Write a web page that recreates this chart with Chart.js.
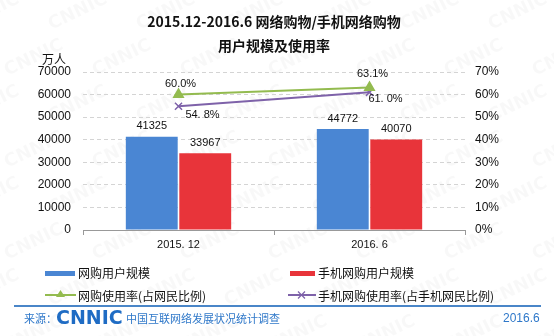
<!DOCTYPE html>
<html>
<head>
<meta charset="utf-8">
<script src="https://cdn.jsdelivr.net/npm/chart.js@4/dist/chart.umd.min.js"></script>
<style>
  body { margin: 0; background: #fff; }
  #chart { display: block; }
</style>
</head>
<body>
<canvas id="chart" width="554" height="336"></canvas>
<script>
const periods = ['2015. 12', '2016. 6'];
const shopUsers = [41325, 44772];
const mobileShopUsers = [33967, 40070];
const shopRate = [60.0, 63.1];
const mobileShopRate = [54.8, 61.0];

const leftTicksMax = 70000;
const rightTicksMax = 70;

const BLUE = '#4a86d3';
const RED = '#e8343a';
const GREEN = '#93bb4f';
const PURPLE = '#7e62a9';
const FONT = '"Liberation Sans", Arial, sans-serif';
const CJK = '"Noto Sans CJK SC", sans-serif';

// faint repeated logo text behind everything
const watermark = {
  id: 'watermark',
  beforeDraw(chart) {
    const ctx = chart.ctx;
    ctx.save();
    ctx.fillStyle = '#fff';
    ctx.fillRect(0, 0, chart.width, chart.height);
    ctx.fillStyle = 'rgba(0,0,0,0.028)';
    ctx.font = 'bold 18px "DejaVu Sans", sans-serif';
    ctx.textAlign = 'center';
    ctx.textBaseline = 'middle';
    for (let row = 0; row < 8; row++) {
      for (let col = 0; col < 8; col++) {
        const x = col * 88 + (row % 2) * 44 - 10;
        const y = row * 46 + 12;
        ctx.save();
        ctx.translate(x, y);
        ctx.rotate(-0.45);
        ctx.fillText('CNNIC', 0, 0);
        ctx.restore();
      }
    }
    ctx.restore();
  }
};

// value labels next to the bars and points
const valueLabels = {
  id: 'valueLabels',
  afterDatasetsDraw(chart, args, opts) {
    const ctx = chart.ctx;
    ctx.save();
    ctx.font = '11px ' + FONT;
    ctx.fillStyle = '#111';
    ctx.textAlign = 'center';
    ctx.textBaseline = 'middle';
    chart.data.datasets.forEach((ds, i) => {
      const meta = chart.getDatasetMeta(i);
      const off = opts.offsets[i];
      meta.data.forEach((el, j) => {
        const v = ds.data[j];
        let text;
        if (ds.type === 'bar') text = String(v);
        else if (i === 3) text = v.toFixed(1).replace('.', '. ') + '%';
        else text = v.toFixed(1) + '%';
        ctx.fillText(text, el.x + off[j][0], el.y + off[j][1]);
      });
    });
    ctx.restore();
  }
};

// title, unit, legend and source footer
const decor = {
  id: 'decor',
  afterDraw(chart) {
    const ctx = chart.ctx;
    ctx.save();
    ctx.fillStyle = '#111';
    ctx.textAlign = 'center';
    ctx.textBaseline = 'middle';
    ctx.font = 'bold 14px ' + CJK;
    ctx.fillText('2015.12-2016.6 网络购物/手机网络购物', 274, 22);
    ctx.fillText('用户规模及使用率', 274, 46);

    ctx.font = '12px ' + CJK;
    ctx.fillText('万人', 54, 59);

    // legend
    ctx.textAlign = 'left';
    ctx.font = '12px ' + CJK;
    ctx.fillStyle = BLUE;
    ctx.fillRect(45, 271, 30, 5);
    ctx.fillStyle = RED;
    ctx.fillRect(290, 271, 25, 5);
    ctx.lineWidth = 2;
    ctx.strokeStyle = GREEN;
    ctx.beginPath(); ctx.moveTo(45, 295); ctx.lineTo(76, 295); ctx.stroke();
    ctx.fillStyle = GREEN;
    ctx.beginPath(); ctx.moveTo(60.5, 290); ctx.lineTo(65, 297); ctx.lineTo(56, 297); ctx.closePath(); ctx.fill();
    ctx.strokeStyle = PURPLE;
    ctx.beginPath(); ctx.moveTo(288, 295); ctx.lineTo(316, 295); ctx.stroke();
    ctx.lineWidth = 1.2;
    ctx.beginPath();
    ctx.moveTo(298, 291.5); ctx.lineTo(305, 298.5);
    ctx.moveTo(305, 291.5); ctx.lineTo(298, 298.5);
    ctx.stroke();
    ctx.fillStyle = '#111';
    ctx.fillText('网购用户规模', 78, 273);
    ctx.fillText('手机网购用户规模', 318, 273);
    ctx.fillText('网购使用率(占网民比例)', 78, 296);
    ctx.fillText('手机网购使用率(占手机网民比例)', 318, 296);

    // footer
    ctx.strokeStyle = '#4a86c8';
    ctx.lineWidth = 2;
    ctx.beginPath(); ctx.moveTo(14, 306); ctx.lineTo(541, 306); ctx.stroke();
    ctx.fillStyle = '#2f78c9';
    ctx.font = '11px ' + CJK;
    ctx.fillText('来源：', 24, 319);
    ctx.fillText('中国互联网络发展状况统计调查', 126, 319);
    ctx.font = '12px ' + FONT;
    ctx.fillText('2016.6', 503, 319);
    ctx.fillStyle = '#1f6cc4';
    ctx.font = 'bold 19px "DejaVu Sans", sans-serif';
    ctx.fillText('CNNIC', 56, 319);
    ctx.restore();
  }
};

new Chart(document.getElementById('chart'), {
  data: {
    labels: periods,
    datasets: [
      {
        type: 'bar',
        label: '网购用户规模',
        data: shopUsers,
        backgroundColor: BLUE,
        categoryPercentage: 0.56,
        barPercentage: 0.97,
        yAxisID: 'y',
        order: 2
      },
      {
        type: 'bar',
        label: '手机网购用户规模',
        data: mobileShopUsers,
        backgroundColor: RED,
        categoryPercentage: 0.56,
        barPercentage: 0.97,
        yAxisID: 'y',
        order: 2
      },
      {
        type: 'line',
        label: '网购使用率(占网民比例)',
        data: shopRate,
        borderColor: GREEN,
        backgroundColor: GREEN,
        borderWidth: 2,
        pointStyle: 'triangle',
        pointRadius: 5,
        yAxisID: 'y1',
        order: 1
      },
      {
        type: 'line',
        label: '手机网购使用率(占手机网民比例)',
        data: mobileShopRate,
        borderColor: PURPLE,
        backgroundColor: PURPLE,
        borderWidth: 2,
        pointStyle: 'crossRot',
        pointRadius: 5,
        pointBorderWidth: 1.5,
        yAxisID: 'y1',
        order: 1
      }
    ]
  },
  options: {
    responsive: false,
    animation: false,
    layout: { padding: { top: 72, bottom: 86, left: 0, right: 0 } },
    plugins: {
      legend: { display: false },
      tooltip: { enabled: false },
      valueLabels: {
        offsets: [
          [[0, -11], [0, -10]],
          [[0, -10], [0, -11]],
          [[2, -11], [3, -14]],
          [[24, 9], [16, 7]]
        ]
      }
    },
    scales: {
      x: {
        offset: true,
        grid: { display: true, drawOnChartArea: false, drawTicks: true, tickLength: 5, color: '#999' },
        border: { display: true, color: '#999' },
        ticks: { padding: 3, color: '#111', font: { family: FONT, size: 11 } },
        afterFit(scale) { scale.height = 20; }
      },
      y: {
        position: 'left',
        min: 0,
        max: leftTicksMax,
        ticks: {
          stepSize: 10000,
          padding: 12,
          color: '#111',
          font: { family: FONT, size: 12 },
          callback: v => String(v)
        },
        grid: { color: '#d4d4d4', drawTicks: false },
        border: { display: false, dash: [4, 3] },
        afterFit(scale) { scale.width = 83; }
      },
      y1: {
        position: 'right',
        min: 0,
        max: rightTicksMax,
        ticks: {
          stepSize: 10,
          padding: 10,
          color: '#111',
          font: { family: FONT, size: 12 },
          callback: v => v + '%'
        },
        grid: { display: false, drawTicks: false },
        border: { display: false },
        afterFit(scale) { scale.width = 89; }
      }
    }
  },
  plugins: [watermark, valueLabels, decor]
});
</script>
</body>
</html>
